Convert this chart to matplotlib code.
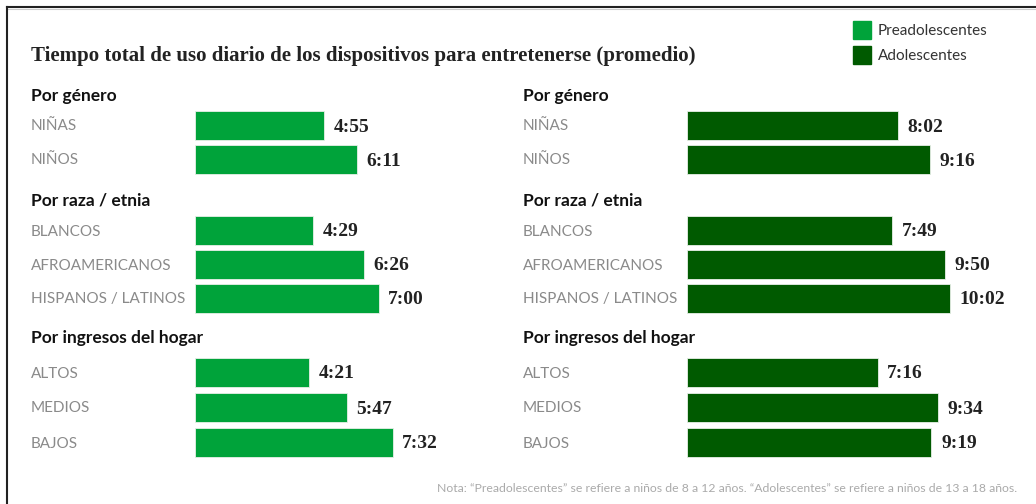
import matplotlib.pyplot as plt
from matplotlib.transforms import blended_transform_factory
from matplotlib.patches import Rectangle
from matplotlib.lines import Line2D

# data
sections = ["Por género", "Por raza / etnia", "Por ingresos del hogar"]
groups = [
    ["NIÑAS", "NIÑOS"],
    ["BLANCOS", "AFROAMERICANOS", "HISPANOS / LATINOS"],
    ["ALTOS", "MEDIOS", "BAJOS"],
]
preteen_times = ["4:55", "6:11", "4:29", "6:26", "7:00", "4:21", "5:47", "7:32"]
teen_times = ["8:02", "9:16", "7:49", "9:50", "10:02", "7:16", "9:34", "9:19"]

title = "Tiempo total de uso diario de los dispositivos para entretenerse (promedio)"
legend_labels = ["Preadolescentes", "Adolescentes"]
note = ("Nota: “Preadolescentes” se refiere a niños de 8 a 12 años. "
        "“Adolescentes” se refiere a niños de 13 a 18 años.")

light_green = "#00A33A"
dark_green = "#005A00"


def to_minutes(t):
    h, m = t.split(":")
    return int(h) * 60 + int(m)


W, H = 1036, 504
fig = plt.figure(figsize=(W / 100, H / 100), dpi=100)
fig.patch.set_facecolor("white")

# layout in pixels
header_y = [96, 200, 338]
row_y = [[125, 159], [230, 264, 298], [372, 407, 442]]
px_per_min = 0.437


def draw_panel(label_x, bar_x, times, color):
    bar_w = 330
    ax = fig.add_axes([bar_x / W, 0, bar_w / W, 1])
    ax.set_xlim(0, bar_w / px_per_min)
    ax.set_ylim(H, 0)
    ax.axis("off")
    ys = [y for rows in row_y for y in rows]
    mins = [to_minutes(t) for t in times]
    ax.barh(ys, mins, height=29, color=color, edgecolor="#e8f0e8", linewidth=0.6)
    for y, m, t in zip(ys, mins, times):
        ax.annotate(t, (m, y + 2), xytext=(7, 0), textcoords="offset points",
                    ha="left", va="center", fontsize=14, fontweight="bold",
                    family="Liberation Serif", color="#222222")
    tr = blended_transform_factory(fig.transFigure, ax.transData)
    for hy, sec, rows, labels in zip(header_y, sections, row_y, groups):
        ax.text(label_x / W, hy, sec, transform=tr, ha="left", va="center",
                fontsize=12.5, fontweight="bold", family="Lato", color="#111111")
        for y, lab in zip(rows, labels):
            ax.text(label_x / W, y + 1.5, lab, transform=tr, ha="left", va="center",
                    fontsize=11, family="Lato", color="#8a8a8a")


draw_panel(31, 195, preteen_times, light_green)
draw_panel(523, 687, teen_times, dark_green)

fig.text(31 / W, 1 - 56 / H, title, ha="left", va="center", fontsize=15,
         fontweight="bold", family="Liberation Serif", color="#222222")

# legend
for i, (lab, col) in enumerate(zip(legend_labels, [light_green, dark_green])):
    y0 = 21 + 25 * i
    fig.patches.append(Rectangle((853 / W, 1 - (y0 + 18) / H), 18 / W, 18 / H,
                                 transform=fig.transFigure, color=col))
    fig.text(878 / W, 1 - (y0 + 10) / H, lab, ha="left", va="center",
             fontsize=11, family="Lato", color="#333333")

fig.text(1017 / W, 1 - 488 / H, note, ha="right", va="center", fontsize=8.8,
         family="Lato", color="#aaaaaa")

# frame lines top and left
fig.lines.append(Line2D([7 / W, 1], [1 - 7 / H, 1 - 7 / H], transform=fig.transFigure,
                        color="#222222", linewidth=1.5))
fig.lines.append(Line2D([7 / W, 1], [1 - 9 / H, 1 - 9 / H], transform=fig.transFigure,
                        color="#cccccc", linewidth=0.8))
fig.lines.append(Line2D([7 / W, 7 / W], [0, 1 - 7 / H], transform=fig.transFigure,
                        color="#222222", linewidth=1.5))

fig.savefig("out.png", dpi=100, facecolor="white")
